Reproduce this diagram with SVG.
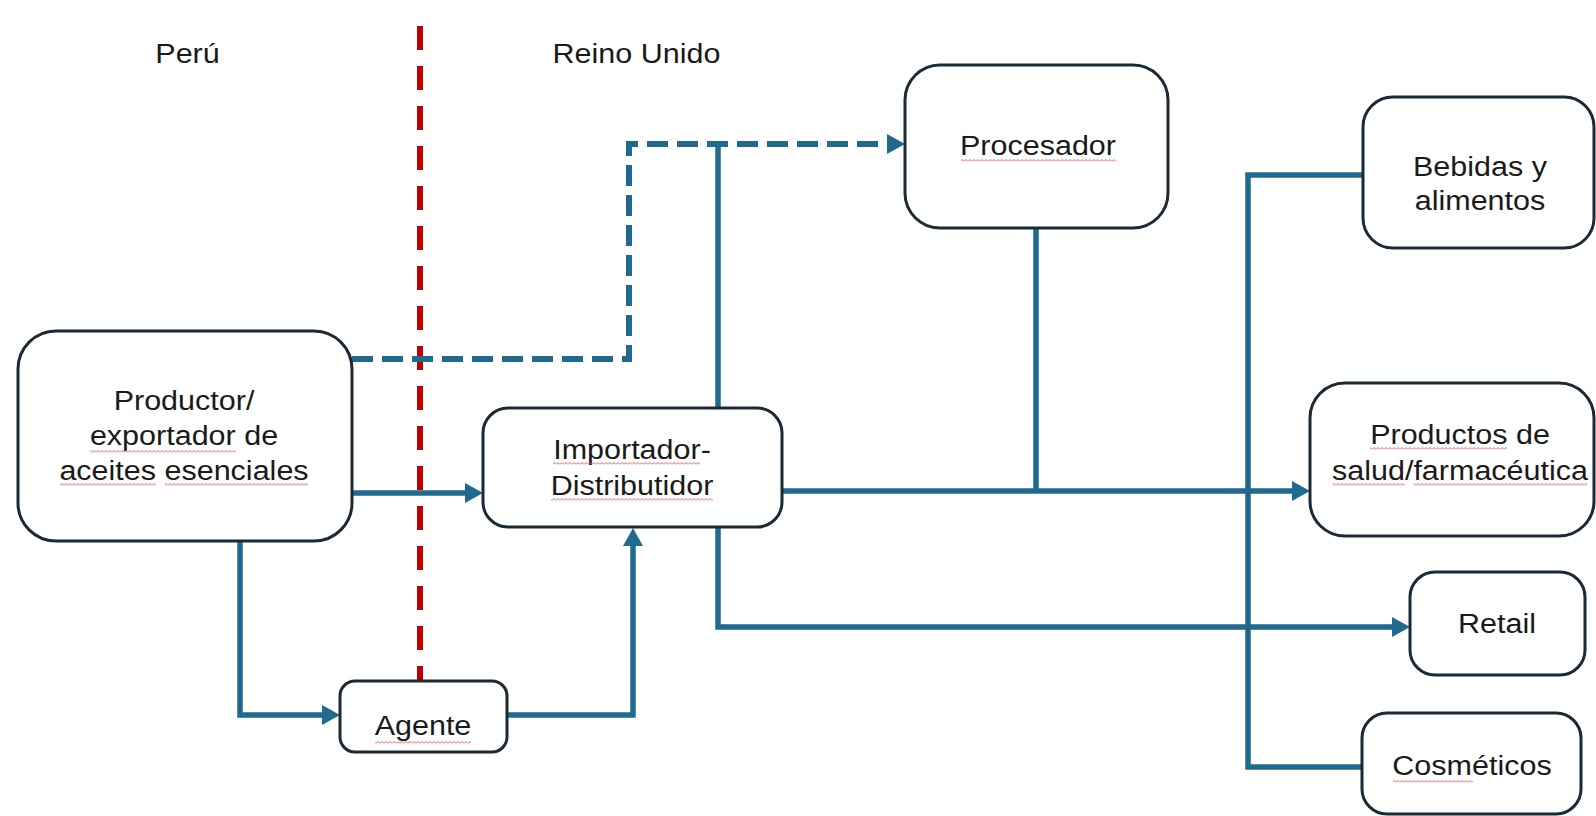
<svg xmlns="http://www.w3.org/2000/svg" width="1596" height="816" viewBox="0 0 1596 816">
  <style>
    .box { fill: #ffffff; stroke: #1b2a35; stroke-width: 3; }
    .t { font-family: "Liberation Sans", Arial, sans-serif; font-size: 28px; fill: #1a1a1a; text-anchor: middle; }
    .c { fill: none; stroke: #1f6a8e; stroke-width: 5.5; stroke-linejoin: miter; }
    .ca { marker-end: url(#arr); }
    .dash { stroke-dasharray: 21 9; stroke-width: 6; }
    .border { fill: none; stroke: #c00000; stroke-width: 6; stroke-dasharray: 24 16; }
    .sq { fill: url(#squig); }
  </style>
  <defs>
    <marker id="arr" viewBox="0 0 18 20" refX="12" refY="10" markerWidth="18" markerHeight="20" markerUnits="userSpaceOnUse" orient="auto">
      <path d="M0,0 L18,10 L0,20 z" fill="#1f6a8e"/>
    </marker>
    <pattern id="squig" patternUnits="userSpaceOnUse" width="4" height="3">
      <path d="M0,2.5 L2,0.5 L4,2.5" fill="none" stroke="#e04a4a" stroke-width="0.9"/>
    </pattern>
  </defs>
  <rect width="1596" height="816" fill="#ffffff"/>

  <g id="labels">
    <text class="t" transform="translate(187.5,63) scale(1.09,1)">Perú</text>
    <text class="t" transform="translate(636.5,63) scale(1.09,1)">Reino Unido</text>
  </g>

  <g id="border-line">
    <line class="border" x1="420" y1="26" x2="420" y2="680"/>
  </g>

  <g id="connectors">
    <!-- Productor -> Importador -->
    <path class="c ca" d="M352,493 L477,493"/>
    <!-- Productor -> Agente -->
    <path class="c ca" d="M240,541 L240,715 L334,715"/>
    <!-- Agente -> Importador -->
    <path class="c ca" d="M507,715 L633,715 L633,534"/>
    <!-- Productor -> Procesador (dashed) -->
    <path class="c ca dash" d="M352,359 L629,359 L629,144 L899,144"/>
    <!-- Importador up to dashed line -->
    <path class="c" d="M718,408 L718,144"/>
    <!-- Importador -> Productos -->
    <path class="c ca" d="M782,491 L1304,491"/>
    <!-- Procesador down to junction -->
    <path class="c" d="M1036,229 L1036,491"/>
    <!-- Importador -> Retail -->
    <path class="c ca" d="M718,527 L718,627 L1404,627"/>
    <!-- Bebidas / Cosmeticos bracket -->
    <path class="c" d="M1363,175 L1248,175 L1248,767 L1362,767"/>
  </g>

  <g id="productor">
    <rect class="box" x="18" y="331" width="334" height="210" rx="38"/>
    <text class="t" transform="translate(184,410) scale(1.09,1)">Productor/</text>
    <text class="t" transform="translate(184,445) scale(1.09,1)">exportador de</text>
    <text class="t" transform="translate(184,480) scale(1.09,1)">aceites esenciales</text>
    <rect class="sq" x="90" y="450" width="146" height="3"/>
    <rect class="sq" x="60" y="483" width="96" height="3"/>
    <rect class="sq" x="165" y="483" width="143" height="3"/>
  </g>

  <g id="agente">
    <rect class="box" x="340" y="681" width="167" height="71" rx="15"/>
    <text class="t" transform="translate(423,735) scale(1.09,1)">Agente</text>
    <rect class="sq" x="375" y="741" width="96" height="3"/>
  </g>

  <g id="importador">
    <rect class="box" x="483" y="408" width="299" height="119" rx="25"/>
    <text class="t" transform="translate(632,459) scale(1.09,1)">Importador-</text>
    <text class="t" transform="translate(632,495) scale(1.09,1)">Distributidor</text>
    <rect class="sq" x="553" y="462" width="147" height="3"/>
    <rect class="sq" x="551" y="498" width="162" height="3"/>
  </g>

  <g id="procesador">
    <rect class="box" x="905" y="65" width="263" height="163" rx="35"/>
    <text class="t" transform="translate(1038,155) scale(1.09,1)">Procesador</text>
    <rect class="sq" x="961" y="159" width="155" height="3"/>
  </g>

  <g id="bebidas">
    <rect class="box" x="1363" y="97" width="231" height="151" rx="30"/>
    <text class="t" transform="translate(1480,176) scale(1.09,1)">Bebidas y</text>
    <text class="t" transform="translate(1480,210) scale(1.09,1)">alimentos</text>
  </g>

  <g id="productos">
    <rect class="box" x="1310" y="383" width="284" height="153" rx="35"/>
    <text class="t" transform="translate(1460,444) scale(1.09,1)">Productos de</text>
    <text class="t" transform="translate(1460,480) scale(1.09,1)">salud/farmacéutica</text>
    <rect class="sq" x="1370" y="447" width="137" height="3"/>
    <rect class="sq" x="1333" y="483" width="72" height="3"/>
    <rect class="sq" x="1414" y="483" width="173" height="3"/>
  </g>

  <g id="retail">
    <rect class="box" x="1410" y="572" width="175" height="103" rx="25"/>
    <text class="t" transform="translate(1497,633) scale(1.09,1)">Retail</text>
  </g>

  <g id="cosmeticos">
    <rect class="box" x="1362" y="713" width="219" height="101" rx="25"/>
    <text class="t" transform="translate(1472,775) scale(1.09,1)">Cosméticos</text>
    <rect class="sq" x="1393" y="780" width="80" height="3"/>
  </g>
</svg>
